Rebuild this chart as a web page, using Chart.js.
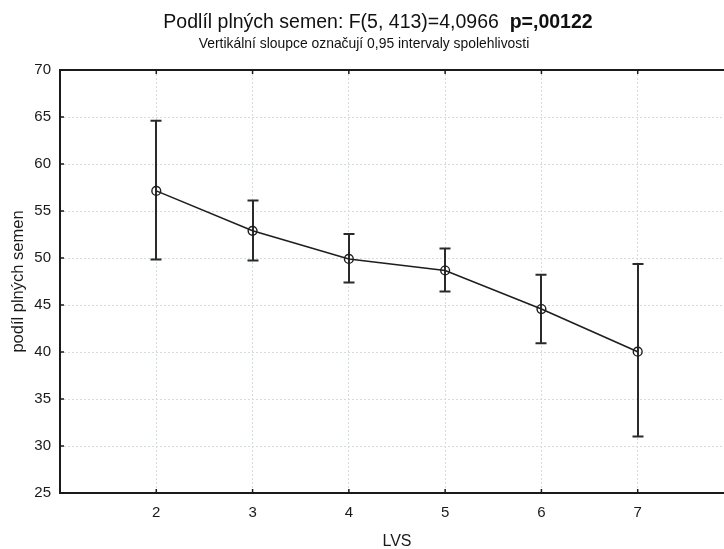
<!DOCTYPE html>
<html>
<head>
<meta charset="utf-8">
<script src="https://cdn.jsdelivr.net/npm/chart.js@4/dist/chart.umd.min.js"></script>
<style>
html,body{margin:0;padding:0;overflow:hidden;background:#fff;width:724px;height:549px;}
canvas{display:block;}
</style>
</head>
<body>
<canvas id="c" width="745" height="549"></canvas>
<script>
const categories = [2, 3, 4, 5, 6, 7];
const means = [57.14, 52.89, 49.90, 48.67, 44.57, 40.03];
const lower = [49.85, 49.74, 47.40, 46.44, 40.92, 31.00];
const upper = [64.61, 56.11, 52.54, 51.01, 48.21, 49.35];
const yTicks = [25, 30, 35, 40, 45, 50, 55, 60, 65, 70];
const titleMain = 'Podlíl plných semen: F(5, 413)=4,0966  ';
const titleBold = 'p=,00122';
const subtitle = 'Vertikální sloupce označují 0,95 intervaly spolehlivosti';
const xTitle = 'LVS';
const yTitle = 'podíl plných semen';

const FONT = '"Liberation Sans", Arial, sans-serif';

const decor = {
  id: 'decor',
  beforeDatasetsDraw(chart) {
    const ctx = chart.ctx, xs = chart.scales.x, ys = chart.scales.y;
    ctx.save();
    ctx.strokeStyle = '#2a2a2a';
    ctx.lineWidth = 2;
    categories.forEach((c, i) => {
      const px = Math.round(xs.getPixelForValue(c));
      const pl = ys.getPixelForValue(lower[i]);
      const pu = ys.getPixelForValue(upper[i]);
      ctx.beginPath();
      ctx.moveTo(px, pu); ctx.lineTo(px, pl);
      ctx.moveTo(px - 5.5, pu); ctx.lineTo(px + 5.5, pu);
      ctx.moveTo(px - 5.5, pl); ctx.lineTo(px + 5.5, pl);
      ctx.stroke();
    });
    ctx.restore();
  },
  afterDraw(chart) {
    const ctx = chart.ctx, xs = chart.scales.x, ys = chart.scales.y, a = chart.chartArea;
    ctx.save();
    ctx.strokeStyle = '#1a1a1a';
    ctx.lineWidth = 2;
    ctx.strokeRect(a.left, a.top, a.right - a.left, a.bottom - a.top);
    ctx.lineWidth = 1.5;
    ctx.beginPath();
    yTicks.forEach(v => {
      const py = ys.getPixelForValue(v);
      ctx.moveTo(a.left, py); ctx.lineTo(a.left + 4, py);
    });
    categories.forEach(c => {
      const px = xs.getPixelForValue(c);
      ctx.moveTo(px, a.bottom); ctx.lineTo(px, a.bottom - 4);
      ctx.moveTo(px, a.top); ctx.lineTo(px, a.top + 4);
    });
    ctx.stroke();
    ctx.fillStyle = '#111';
    ctx.textBaseline = 'alphabetic';
    ctx.font = '19.5px ' + FONT;
    const w1 = ctx.measureText(titleMain).width;
    ctx.font = 'bold 19.5px ' + FONT;
    const w2 = ctx.measureText(titleBold).width;
    const cx = 378;
    const x0 = cx - (w1 + w2) / 2;
    ctx.textAlign = 'left';
    ctx.font = '19.5px ' + FONT;
    ctx.fillText(titleMain, x0, 28);
    ctx.font = 'bold 19.5px ' + FONT;
    ctx.fillText(titleBold, x0 + w1, 28);
    ctx.font = '13.9px ' + FONT;
    ctx.textAlign = 'center';
    ctx.fillText(subtitle, 364, 48);
    ctx.restore();
  }
};

new Chart(document.getElementById('c'), {
  type: 'scatter',
  data: {
    datasets: [{
      data: categories.map((c, i) => ({x: c, y: means[i]})),
      showLine: true,
      borderColor: '#1e1e1e',
      borderWidth: 1.6,
      pointRadius: 4.4,
      pointHoverRadius: 4.4,
      pointBackgroundColor: 'rgba(255,255,255,0)',
      pointBorderColor: '#1e1e1e',
      pointBorderWidth: 1.4,
      tension: 0
    }]
  },
  options: {
    responsive: false,
    animation: false,
    devicePixelRatio: 1,
    layout: {padding: {top: 70, right: 11, left: 0, bottom: 0}},
    plugins: {legend: {display: false}, tooltip: {enabled: false}, title: {display: false}},
    scales: {
      x: {
        type: 'linear', min: 1, max: 8,
        afterFit: s => { s.height = 56; },
        afterBuildTicks: s => { s.ticks = categories.map(v => ({value: v})); },
        ticks: {
          padding: 11, color: '#1a1a1a', font: {family: FONT, size: 15},
          maxRotation: 0, autoSkip: false
        },
        grid: {color: '#d5dcde', lineWidth: 1, drawTicks: false},
        border: {display: false, dash: [2, 2]},
        title: {display: true, text: xTitle, color: '#1a1a1a', font: {family: FONT, size: 16, lineHeight: 1}, padding: {top: 0, bottom: -1}}
      },
      y: {
        type: 'linear', min: 25, max: 70,
        afterFit: s => { s.width = 60; },
        afterBuildTicks: s => { s.ticks = yTicks.map(v => ({value: v})); },
        ticks: {padding: 9, color: '#1a1a1a', font: {family: FONT, size: 15}},
        grid: {color: '#d5dcde', lineWidth: 1, drawTicks: false},
        border: {display: false, dash: [2, 2]},
        title: {display: true, text: yTitle, color: '#1a1a1a', font: {family: FONT, size: 16.5, lineHeight: 1}, padding: {top: 10, bottom: 0}}
      }
    }
  },
  plugins: [decor]
});
</script>
</body>
</html>
